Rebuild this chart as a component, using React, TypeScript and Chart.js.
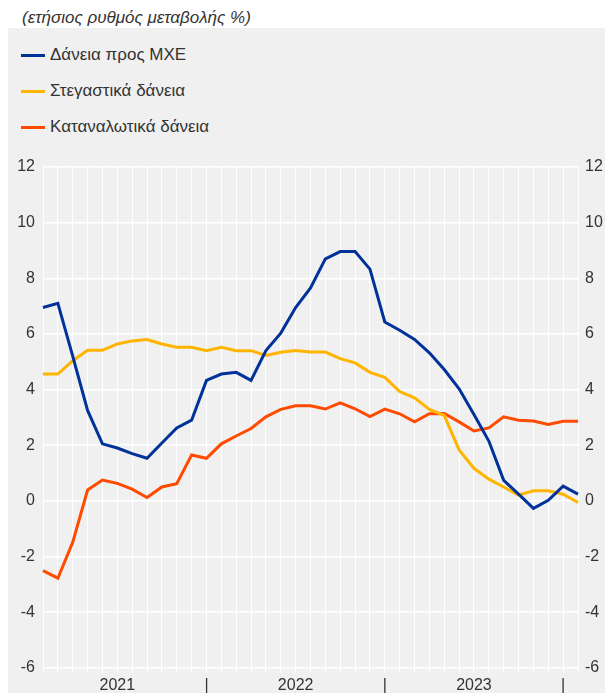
import React, { useEffect, useRef } from "react";
import { Chart, registerables } from "chart.js";

Chart.register(...registerables);

const months = [
  "2021-01", "2021-02", "2021-03", "2021-04", "2021-05", "2021-06", "2021-07", "2021-08", "2021-09", "2021-10", "2021-11", "2021-12",
  "2022-01", "2022-02", "2022-03", "2022-04", "2022-05", "2022-06", "2022-07", "2022-08", "2022-09", "2022-10", "2022-11", "2022-12",
  "2023-01", "2023-02", "2023-03", "2023-04", "2023-05", "2023-06", "2023-07", "2023-08", "2023-09", "2023-10", "2023-11", "2023-12",
  "2024-01",
];

const xTickLabels = [
  "", "", "", "", "", "2021", "", "", "", "", "", "|",
  "", "", "", "", "", "2022", "", "", "", "", "", "|",
  "", "", "", "", "", "2023", "", "", "", "", "", "|",
  "",
];

const yTicks = [-6, -4, -2, 0, 2, 4, 6, 8, 10, 12];

const smeLoans = [
  6.95, 7.1, 5.2, 3.25, 2.05, 1.9, 1.7, 1.53, 2.08, 2.62, 2.9, 4.33,
  4.56, 4.62, 4.33, 5.4, 6.03, 6.95, 7.65, 8.7, 8.96, 8.96, 8.33, 6.43,
  6.13, 5.8, 5.32, 4.72, 4.03, 3.1, 2.15, 0.74, 0.24, -0.27, 0.02, 0.53,
  0.24,
];

const housingLoans = [
  4.56, 4.56, 5.04, 5.41, 5.41, 5.64, 5.75, 5.8, 5.64, 5.52, 5.52, 5.4,
  5.52, 5.4, 5.4, 5.23, 5.34, 5.4, 5.35, 5.35, 5.11, 4.96, 4.62, 4.44,
  3.93, 3.7, 3.29, 3.07, 1.83, 1.17, 0.78, 0.5, 0.21, 0.36, 0.36, 0.24,
  -0.06,
];

const consumerLoans = [
  -2.51, -2.78, -1.49, 0.39, 0.75, 0.63, 0.42, 0.12, 0.5, 0.62, 1.65, 1.53,
  2.05, 2.33, 2.6, 3.02, 3.29, 3.42, 3.42, 3.3, 3.52, 3.31, 3.03, 3.3,
  3.13, 2.84, 3.13, 3.14, 2.84, 2.51, 2.62, 3.02, 2.9, 2.87, 2.75, 2.86,
  2.86,
];

const seriesNames = ["Δάνεια προς ΜΧΕ", "Στεγαστικά δάνεια", "Καταναλωτικά δάνεια"];
const seriesColors = ["#003299", "#ffb400", "#ff4b00"];

const FONT = '"Liberation Sans", Arial, Helvetica, sans-serif';

export default function App() {
  const ref = useRef<HTMLCanvasElement | null>(null);

  useEffect(() => {
    if (!ref.current) return;
    const seriesData = [smeLoans, housingLoans, consumerLoans];
    const chart = new Chart(ref.current, {
      type: "line",
      data: {
        labels: months,
        datasets: seriesData.map((d, i) => ({
          label: seriesNames[i],
          data: d,
          borderColor: seriesColors[i],
          backgroundColor: seriesColors[i],
          borderWidth: 3,
          pointRadius: 0,
          tension: 0,
          yAxisID: "y",
        })),
      },
      options: {
        animation: false,
        responsive: true,
        maintainAspectRatio: false,
        layout: { padding: { top: 20, left: 0, right: 0, bottom: 0 } },
        plugins: { legend: { display: false }, tooltip: { enabled: false } },
        scales: {
          x: {
            type: "category",
            offset: false,
            grid: { color: "#ffffff", lineWidth: 1, drawTicks: true, tickLength: 5, tickColor: "#ffffff" },
            border: { display: false },
            ticks: {
              autoSkip: false,
              maxRotation: 0,
              minRotation: 0,
              padding: 3,
              color: "#333333",
              font: { family: FONT, size: 16 },
              callback: (_v: any, i: number) => xTickLabels[i],
            },
          },
          y: {
            position: "left",
            min: yTicks[0],
            max: yTicks[yTicks.length - 1],
            afterFit: (s: any) => { s.width = 35; },
            afterBuildTicks: (s: any) => { s.ticks = yTicks.map((v) => ({ value: v })); },
            grid: { color: "#ffffff", lineWidth: 1.5, drawTicks: false },
            border: { display: false },
            ticks: { padding: 8, color: "#333333", font: { family: FONT, size: 16 } },
          },
          y2: {
            position: "right",
            min: yTicks[0],
            max: yTicks[yTicks.length - 1],
            afterFit: (s: any) => { s.width = 35; },
            afterBuildTicks: (s: any) => { s.ticks = yTicks.map((v) => ({ value: v })); },
            grid: { drawOnChartArea: false, drawTicks: false },
            border: { display: false },
            ticks: { padding: 7, color: "#333333", font: { family: FONT, size: 16 } },
          },
        },
      },
    });
    return () => chart.destroy();
  }, []);

  return (
    <div style={{ fontFamily: FONT, color: "#333333" }}>
      <div style={{ height: 20, lineHeight: "20px", fontStyle: "italic", fontSize: 17, paddingLeft: 14, whiteSpace: "nowrap" }}>
        (ετήσιος ρυθμός μεταβολής %)
      </div>
      <div style={{ position: "relative", background: "#f0f0f0", height: 670, marginRight: -8 }}>
        {seriesNames.map((n, i) => (
          <div key={n} style={{ position: "absolute", left: 13, top: 27 + i * 36 - 10, height: 20, display: "flex", alignItems: "center", whiteSpace: "nowrap" }}>
            <span style={{ display: "inline-block", width: 24, height: 3, background: seriesColors[i], marginRight: 5 }} />
            <span style={{ fontSize: 17 }}>{n}</span>
          </div>
        ))}
        <div style={{ position: "absolute", left: 0, top: 119, width: 605, height: 551 }}>
          <canvas ref={ref} />
        </div>
      </div>
    </div>
  );
}
